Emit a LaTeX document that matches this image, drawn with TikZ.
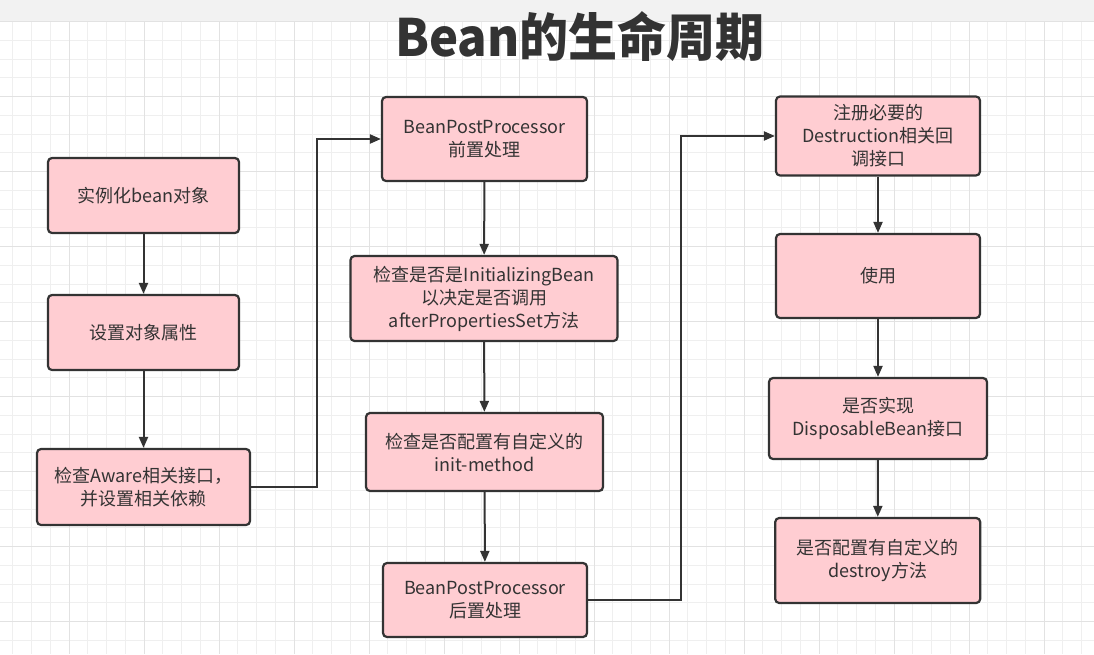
\documentclass[tikz,border=0pt]{standalone}
\usepackage{fontspec}
\setmainfont{Noto Sans CJK SC}
\usetikzlibrary{arrows.meta}
\definecolor{boxfill}{HTML}{FFCDD2}
\definecolor{ink}{HTML}{333333}
\definecolor{gminor}{HTML}{EFEFEF}
\definecolor{gmajor}{HTML}{E2E2E2}
\definecolor{band}{HTML}{F2F2F2}
\begin{document}
\begin{tikzpicture}[x=1pt,y=-1pt,
  stepbox/.style={draw=ink,fill=boxfill,line width=2.2pt,rounded corners=4pt,
    align=center,text=ink,inner sep=0pt,font=\fontsize{18}{23}\selectfont},
  conn/.style={draw=ink,line width=2pt,-{Triangle[length=11pt,width=9pt]}},
  plain/.style={draw=ink,line width=2pt}]
\useasboundingbox (0,0) rectangle (1094,654);
\fill[white] (0,0) rectangle (1094,654);
\fill[band] (0,0) rectangle (1094,21);
% grid
\foreach \i in {0,...,58}{
  \pgfmathsetmacro\xx{-6+18.75*\i}
  \draw[gminor,line width=1pt] (\xx,21) -- (\xx,654);
}
\foreach \i in {0,...,34}{
  \pgfmathsetmacro\yy{21.7+18.75*\i}
  \draw[gminor,line width=1pt] (0,\yy) -- (1094,\yy);
}
\foreach \i in {0,...,15}{
  \pgfmathsetmacro\xx{-6+75*\i}
  \draw[gmajor,line width=1pt] (\xx,21) -- (\xx,654);
}
\foreach \i in {0,...,9}{
  \pgfmathsetmacro\yy{21.7+75*\i}
  \draw[gmajor,line width=1pt] (0,\yy) -- (1094,\yy);
}
% title
\node[text=ink,font=\fontsize{49}{55}\selectfont\bfseries,inner sep=0pt,yscale=1.05] (title) at (580,37) {Bean的生命周期};
% boxes
\node[stepbox,minimum width=191,minimum height=75] (b1) at (143.5,195.5) {实例化bean对象};
\node[stepbox,minimum width=191,minimum height=75] (b2) at (143.5,332.5) {设置对象属性};
\node[stepbox,minimum width=213,minimum height=76] (b3) at (143.5,487) {检查Aware相关接口，\\并设置相关依赖};
\node[stepbox,minimum width=205,minimum height=84] (b4) at (484.5,139) {BeanPostProcessor\\前置处理};
\node[stepbox,minimum width=267,minimum height=85] (b5) at (484,298.5) {检查是否是InitializingBean\\以决定是否调用\\afterPropertiesSet方法};
\node[stepbox,minimum width=237,minimum height=78] (b6) at (484.5,452) {检查是否配置有自定义的\\init-method};
\node[stepbox,minimum width=204,minimum height=74] (b7) at (485,600) {BeanPostProcessor\\后置处理};
\node[stepbox,minimum width=204,minimum height=79] (b8) at (878,136) {注册必要的\\Destruction相关回\\调接口};
\node[stepbox,minimum width=204,minimum height=84] (b9) at (878,276) {使用};
\node[stepbox,minimum width=218,minimum height=81] (b10) at (878,418.5) {是否实现\\DisposableBean接口};
\node[stepbox,minimum width=205,minimum height=85] (b11) at (877.7,560.5) {是否配置有自定义的\\destroy方法};
% connectors
\coordinate (k1) at (317,487);
\coordinate (k2) at (681,600);
\draw[conn] (b1) -- (b2);
\draw[conn] (b2) -- (b3);
\draw[conn] (b3.east) -- (k1) |- (b4.west);
\draw[conn] (b4) -- (b5);
\draw[conn] (b5) -- (b6);
\draw[conn] (b6) -- (b7);
\draw[conn] (b7.east) -- (k2) |- (b8.west);
\draw[conn] (b8) -- (b9);
\draw[conn] (b9) -- (b10);
\draw[conn] (b10) -- (b11);
\end{tikzpicture}
\end{document}
